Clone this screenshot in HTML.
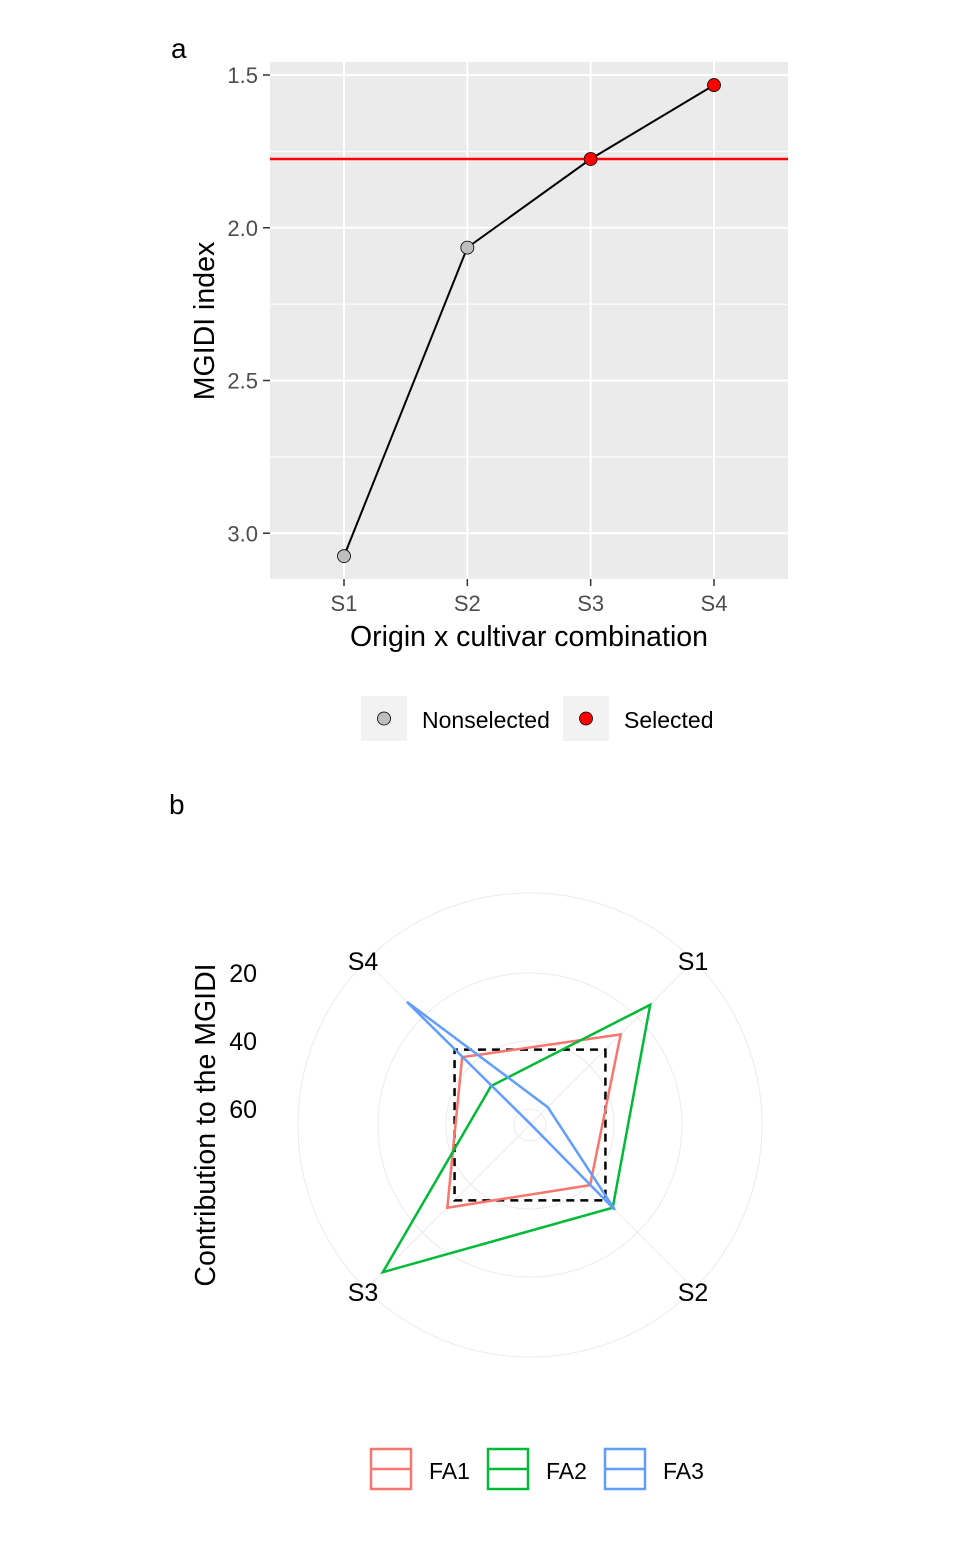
<!DOCTYPE html>
<html><head><meta charset="utf-8"><style>
body{margin:0;background:#fff;}
svg text{font-family:"Liberation Sans",sans-serif;}
</style></head><body>
<svg id="s" width="960" height="1536" xmlns="http://www.w3.org/2000/svg">
<text x="171" y="58" font-size="28">a</text>
<rect x="270" y="62" width="518" height="517" fill="#ebebeb"/>
<g id="ga"></g>
<text transform="translate(214,321) rotate(-90)" text-anchor="middle" font-size="28.5">MGIDI index</text>
<text x="529" y="646" text-anchor="middle" font-size="28.5">Origin x cultivar combination</text>
<g>
<rect x="361" y="696" width="46" height="45" fill="#f2f2f2"/>
<circle cx="384" cy="718.5" r="6.5" fill="#bebebe" stroke="#000" stroke-width="0.8"/>
<text x="422" y="728" font-size="23">Nonselected</text>
<rect x="563" y="696" width="46" height="45" fill="#f2f2f2"/>
<circle cx="586" cy="718.5" r="6.5" fill="#ff0000" stroke="#000" stroke-width="0.8"/>
<text x="624" y="728" font-size="23">Selected</text>
</g>
<text x="169" y="814" font-size="28">b</text>
<g id="gb"></g>
<text transform="translate(215,1125) rotate(-90)" text-anchor="middle" font-size="28.5">Contribution to the MGIDI</text>
<g>
<rect x="371" y="1449" width="40" height="40" fill="#fff" stroke="#f8766d" stroke-width="2.5"/>
<line x1="371" y1="1469" x2="411" y2="1469" stroke="#f8766d" stroke-width="2.5"/>
<text x="429" y="1479" font-size="23">FA1</text>
<rect x="488" y="1449" width="40" height="40" fill="#fff" stroke="#00ba38" stroke-width="2.5"/>
<line x1="488" y1="1469" x2="528" y2="1469" stroke="#00ba38" stroke-width="2.5"/>
<text x="546" y="1479" font-size="23">FA2</text>
<rect x="605" y="1449" width="40" height="40" fill="#fff" stroke="#619cff" stroke-width="2.5"/>
<line x1="605" y1="1469" x2="645" y2="1469" stroke="#619cff" stroke-width="2.5"/>
<text x="663" y="1479" font-size="23">FA3</text>
</g>
</svg>
<script>
const categories=["S1","S2","S3","S4"];
const mgidi=[3.075,2.065,1.775,1.533];
const selected=[false,false,true,true];
const threshold=1.775;
const yTicks=[1.5,2.0,2.5,3.0];
const yTickLabels=["1.5","2.0","2.5","3.0"];
const radarCats=["S1","S2","S3","S4"];
const fa1=[27,39.7,30.3,36.5];
const fa2=[14.7,30.3,3.5,48.5];
const fa3=[57.3,29.4,65,13.5];
const ideal=[33.33,33.33,33.33,33.33];
const rTicks=[20,40,60];

const NS="http://www.w3.org/2000/svg";
function mk(p,t,a){const e=document.createElementNS(NS,t);for(const k in a)e.setAttribute(k,a[k]);p.appendChild(e);return e;}
const ga=document.getElementById('ga');
const y=v=>75+(v-1.5)*305.5;
const x=i=>344+i*123.33;
[1.75,2.25,2.75].forEach(v=>{const l=mk(ga,'line',{x1:270,x2:788,y1:y(v),y2:y(v),stroke:'#fff','stroke-width':1});

});
yTicks.forEach((v,i)=>{const l=mk(ga,'line',{x1:270,x2:788,y1:y(v),y2:y(v),stroke:'#fff','stroke-width':2});


mk(ga,'line',{x1:263,x2:270,y1:y(v),y2:y(v),stroke:'#333','stroke-width':1.5});
const t=mk(ga,'text',{x:258,y:y(v)+8,'text-anchor':'end','font-size':22,fill:'#4d4d4d'});t.textContent=yTickLabels[i];

});
categories.forEach((c,i)=>{const l=mk(ga,'line',{x1:x(i),x2:x(i),y1:62,y2:579,stroke:'#fff','stroke-width':2});


mk(ga,'line',{x1:x(i),x2:x(i),y1:579,y2:586,stroke:'#333','stroke-width':1.5});
const t=mk(ga,'text',{x:x(i),y:611,'text-anchor':'middle','font-size':22,fill:'#4d4d4d'});t.textContent=c;

});
const th=mk(ga,'line',{x1:270,x2:788,y1:y(threshold),y2:y(threshold),stroke:'#ff0000','stroke-width':2.5});


const pl=mk(ga,'polyline',{points:mgidi.map((v,i)=>x(i)+','+y(v)).join(' '),fill:'none',stroke:'#000','stroke-width':2});


mgidi.forEach((v,i)=>{const c=mk(ga,'circle',{cx:x(i),cy:y(v),r:6.5,fill:selected[i]?'#ff0000':'#bebebe',stroke:'#000','stroke-width':0.8});

});
const gb=document.getElementById('gb');
const cx=530,cy=1125;
const r=v=>152-3.4*(v-20);
const ang=i=>(-45+i*90)*Math.PI/180;
const pt=(v,i)=>[cx+r(v)*Math.cos(ang(i)),cy+r(v)*Math.sin(ang(i))];
[232].concat(rTicks.map(r)).forEach(rr=>{const c=mk(gb,'circle',{cx:cx,cy:cy,r:rr,fill:'none',stroke:'#ebebeb','stroke-width':1});

});
radarCats.forEach((c,i)=>{const l=mk(gb,'line',{x1:cx,y1:cy,x2:cx+232*Math.cos(ang(i)),y2:cy+232*Math.sin(ang(i)),stroke:'#ebebeb','stroke-width':1});


const t=mk(gb,'text',{x:cx+(i<2?163:-167),y:cy+(i==0||i==3?-155:176),'text-anchor':'middle','font-size':25});
t.textContent=c;

});
rTicks.forEach(v=>{const t=mk(gb,'text',{x:257,y:cy-r(v)+9,'text-anchor':'end','font-size':25});t.textContent=v;

});
const series=[[ideal,'#000','ideal-line','8,6'],[fa1,'#f8766d','series-fa1',''],[fa2,'#00ba38','series-fa2',''],[fa3,'#619cff','series-fa3','']];
series.forEach(s=>{const p=mk(gb,'polygon',{points:s[0].map((v,i)=>pt(v,i).join(',')).join(' '),fill:'none',stroke:s[1],'stroke-width':2.5,'stroke-dasharray':s[3]||'none'});

});
</script>
</body></html>
